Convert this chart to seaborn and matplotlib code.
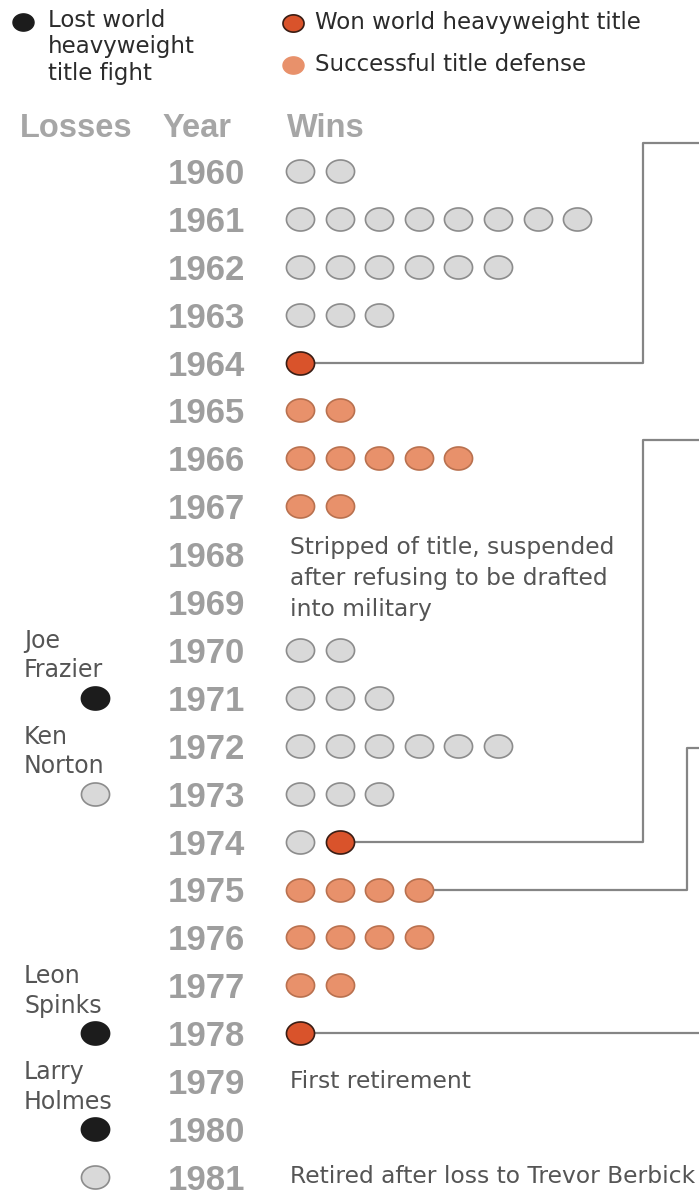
##Step1 import libraries
import numpy as np
import pandas as pd
import matplotlib.pyplot as plt
import seaborn as sns
from matplotlib.path import Path

##Step2 data
years = list(range(1960, 1982))
non_title_wins = [2, 8, 6, 3, 0, 0, 0, 0, 0, 0, 2, 3, 6, 3, 1, 0, 0, 0, 0, 0, 0, 0]
title_won      = [0, 0, 0, 0, 1, 0, 0, 0, 0, 0, 0, 0, 0, 0, 1, 0, 0, 0, 1, 0, 0, 0]
title_defenses = [0, 0, 0, 0, 0, 2, 5, 2, 0, 0, 0, 0, 0, 0, 0, 4, 4, 2, 0, 0, 0, 0]

loss_years = [1971, 1973, 1978, 1980, 1981]
loss_opponents = ['Joe\nFrazier', 'Ken\nNorton', 'Leon\nSpinks', 'Larry\nHolmes', '']
loss_title_fight = [True, False, True, True, False]

note_years = [1968, 1979, 1981]
notes = ['Stripped of title, suspended\nafter refusing to be drafted\ninto military',
         'First retirement',
         'Retired after loss to Trevor Berbick']

# connector lines leave these fights (year, slot in the row)
link_years = [1964, 1974, 1975, 1978]
link_slots = [0, 1, 3, 0]

##Step3 build a long table of wins (one row per fight)
rows = []
for i, yr in enumerate(years):
    kinds = ['other'] * non_title_wins[i] + ['won'] * title_won[i] + ['defense'] * title_defenses[i]
    for slot, kind in enumerate(kinds):
        rows.append({'year': yr, 'slot': slot, 'kind': kind})
wins = pd.DataFrame(rows)
losses = pd.DataFrame({'year': loss_years, 'opponent': loss_opponents, 'title': loss_title_fight})

##Step4 layout (pixel grid of the 699x1198 picture)
W, H = 699, 1198
X0, DX = 300, 39.6      # first win circle, spacing
Y0, DY = 171, 47.9      # row of 1960, row spacing

def xd(px):
    return (px - X0) / DX

def yd(py):
    return 1960 + (py - Y0) / DY

# where each connector turns: vertical x and top y, in pixels (None = straight)
link_turns = [(643, 143), (643, 440), (687, 748), (None, None)]

fills = {'other': '#d9d9d9', 'won': '#d9532b', 'defense': '#e8916b'}
edges = {'other': '#8c8c8c', 'won': '#3a1d14', 'defense': '#b9714f'}

# slightly wide ellipse marker like the picture
t = np.linspace(0, 2 * np.pi, 60)
ellipse = Path(np.column_stack([1.22 * np.cos(t), np.sin(t)]), closed=True)

sns.set_style('white')
plt.rcParams['font.family'] = ['DejaVu Sans']

fig = plt.figure(figsize=(W / 100, H / 100), dpi=100)
ax = fig.add_axes([0, 0, 1, 1])
ax.set_xlim(xd(0), xd(W))
ax.set_ylim(yd(H), yd(0))
ax.axis('off')

line_col = '#858585'
for yr, slot, (vx, top) in zip(link_years, link_slots, link_turns):
    x_start = slot + 0.3
    if vx is None:
        ax.plot([x_start, xd(W)], [yr, yr], color=line_col, lw=1.6, zorder=1)
    else:
        ax.plot([x_start, xd(vx), xd(vx), xd(W)], [yr, yr, yd(top), yd(top)],
                color=line_col, lw=1.6, zorder=1)

##Step5 win circles
for kind in ['other', 'won', 'defense']:
    sub = wins[wins['kind'] == kind]
    sns.scatterplot(data=sub, x='slot', y='year', marker=ellipse, s=410,
                    color=fills[kind], edgecolor=edges[kind], linewidth=1.2,
                    legend=False, ax=ax, zorder=3)

# loss circles
loss_x = xd(95)
for is_title in [True, False]:
    sub = losses[losses['title'] == is_title].assign(x=loss_x)
    sns.scatterplot(data=sub, x='x', y='year', marker=ellipse, s=410,
                    color='#1c1c1c' if is_title else '#d9d9d9',
                    edgecolor='#1c1c1c' if is_title else '#8c8c8c', linewidth=1.2,
                    legend=False, ax=ax, zorder=3)
for yr, name in zip(loss_years, loss_opponents):
    if name:
        ax.text(xd(24), yr - 0.88, name, ha='left', va='center', fontsize=17,
                color='#555555', linespacing=1.28)

##Step6 year labels, headers, notes
year_col = '#9e9e9e'
for yr in years:
    ax.text(xd(245), yr, str(yr), ha='right', va='center_baseline', fontsize=25,
            fontweight='bold', family='Liberation Sans', color=year_col)

for label, px in [('Losses', 20), ('Year', 163), ('Wins', 287)]:
    ax.text(xd(px), yd(125), label, ha='left', va='center_baseline', fontsize=23.5,
            fontweight='bold', family='Liberation Sans', color='#a6a6a6')

for yr, note in zip(note_years, notes):
    off = 0.51 if note.count('\n') else 0
    ax.text(xd(290), yr + off, note, ha='left', va='center', fontsize=16.8,
            color='#555555', linespacing=1.46)

##Step7 legend at the top
ax.scatter([xd(23)], [yd(22)], marker=ellipse, s=230, color='#1c1c1c', edgecolor='#1c1c1c', zorder=3)
ax.scatter([xd(293)], [yd(23)], marker=ellipse, s=230, color=fills['won'], edgecolor=edges['won'], linewidth=1.2, zorder=3)
ax.scatter([xd(293)], [yd(65)], marker=ellipse, s=230, color=fills['defense'], edgecolor=fills['defense'], zorder=3)
ax.text(xd(48), yd(47), 'Lost world\nheavyweight\ntitle fight', ha='left', va='center',
        fontsize=16.5, color='#2b2b2b', linespacing=1.22)
ax.text(xd(315), yd(23), 'Won world heavyweight title', ha='left', va='center',
        fontsize=16.5, color='#2b2b2b')
ax.text(xd(315), yd(65), 'Successful title defense', ha='left', va='center',
        fontsize=16.5, color='#2b2b2b')

plt.savefig('out.png', dpi=100, facecolor='white')
